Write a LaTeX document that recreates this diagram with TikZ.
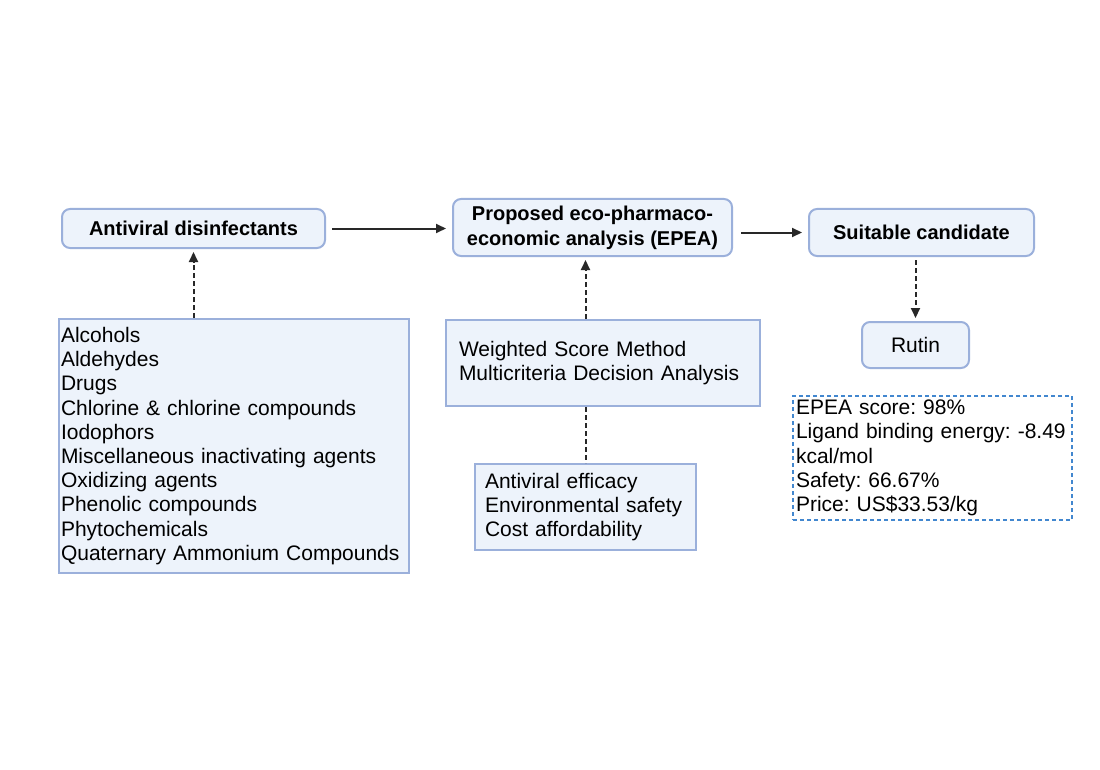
\documentclass[tikz,border=0pt]{standalone}
\usepackage{fontspec}
\setmainfont{Liberation Sans}
\usetikzlibrary{arrows.meta}
\definecolor{boxfill}{RGB}{237,243,251}
\definecolor{boxline}{RGB}{155,176,219}
\definecolor{dashblue}{RGB}{66,135,207}
\definecolor{linegray}{RGB}{40,40,40}

\begin{document}
\frenchspacing
\begin{tikzpicture}[x=1pt,y=-1pt,>={Triangle[length=10pt,width=9pt]},line width=2pt,
  title node/.style={rounded corners=8pt,draw=boxline,fill=boxfill,inner sep=0pt,align=center,font=\bfseries\fontsize{20}{25}\selectfont},
  round node/.style={title node,font=\fontsize{21}{25}\selectfont},
  list node/.style={draw=boxline,fill=boxfill,inner ysep=0pt,align=left,font=\fontsize{21}{24.2}\selectfont},
  flow/.style={->,draw=linegray,shorten >=6pt,shorten <=6pt},
  dash flow/.style={flow,dash pattern=on 5pt off 3pt,shorten >=3pt,shorten <=3pt}]
  \useasboundingbox (0,0) rectangle (1100,770);

  \node[title node,minimum width=263pt,minimum height=39pt] (disinf) at (193.5,228.5) {Antiviral disinfectants};
  \node[title node,minimum width=279pt,minimum height=57pt] (epea) at (592.5,227.5) {Proposed eco-pharmaco-\\economic analysis (EPEA)};
  \node[title node,minimum width=225pt,minimum height=47pt] (cand) at (921.5,232.5) {Suitable candidate};
  \node[round node,minimum width=107pt,minimum height=46pt] (rutin) at (915.5,345) {Rutin};

  \node[list node,inner xsep=2pt,text width=346pt,minimum height=254pt] (classes) at (234,446) {Alcohols\\Aldehydes\\Drugs\\Chlorine \& chlorine compounds\\Iodophors\\Miscellaneous inactivating agents\\Oxidizing agents\\Phenolic compounds\\Phytochemicals\\Quaternary Ammonium Compounds};
  \node[list node,inner xsep=13pt,text width=288pt,minimum height=86pt] (methods) at (603,363) {Weighted Score Method\\Multicriteria Decision Analysis};
  \node[list node,inner xsep=10pt,text width=201pt,minimum height=86pt] (criteria) at (585.5,507) {Antiviral efficacy\\Environmental safety\\Cost affordability};
  \node[list node,draw=dashblue,fill=white,dash pattern=on 4pt off 3pt,inner xsep=3pt,text width=273pt,minimum height=124pt] (stats) at (932.5,458) {EPEA score: 98\%\\Ligand binding energy: -8.49\\kcal/mol\\Safety: 66.67\%\\Price: US\$33.53/kg};

  \path
    (disinf.east) edge[flow] (disinf.east -| epea.west)
    (epea.east |- cand.west) edge[flow,shorten <=8pt] (cand.west)
    (disinf.south |- classes.north) edge[dash flow,shorten <=0pt] (disinf.south)
    (criteria.north |- methods.north) edge[dash flow,shorten <=0pt] (criteria.north |- epea.south)
    (criteria.north |- methods.south) edge[dash flow,-,shorten <=0pt,shorten >=0pt] (criteria.north)
    (cand.south -| rutin.north) edge[dash flow] (rutin.north)
  ;
\end{tikzpicture}
\end{document}
